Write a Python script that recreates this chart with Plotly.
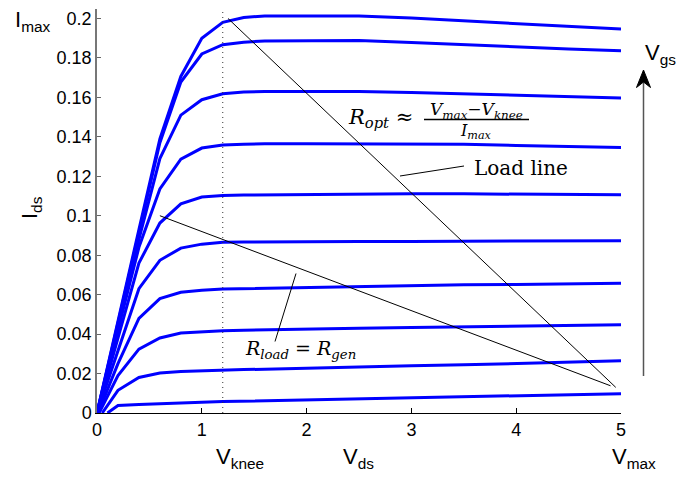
import plotly.graph_objects as go

# ---------------- data ----------------
VDS_GRID = [0.2, 0.4, 0.6, 0.8, 1.0, 1.2, 1.4, 1.6, 2.0, 2.5, 3.0, 3.5, 4.0, 4.5, 5.0]
V_START = [0.0, 0.0, 0.0, 0.0, 0.0, 0.0, 0.01, 0.02, 0.05, 0.1]

IDS_1 = [0.047, 0.093, 0.139, 0.1706, 0.190, 0.198, 0.2005, 0.2013, 0.2013, 0.2012, 0.2002, 0.1988, 0.1972, 0.196, 0.1946]
IDS_2 = [0.046, 0.092, 0.137, 0.1678, 0.182, 0.1867, 0.188, 0.1886, 0.1888, 0.1888, 0.1878, 0.1866, 0.1856, 0.1845, 0.1836]
IDS_3 = [0.044, 0.088, 0.129, 0.151, 0.1588, 0.1618, 0.1627, 0.163, 0.163, 0.163, 0.1625, 0.1618, 0.161, 0.1602, 0.1597]
IDS_4 = [0.042, 0.084, 0.1136, 0.1287, 0.1343, 0.1358, 0.1362, 0.1365, 0.1365, 0.1365, 0.1365, 0.1362, 0.1356, 0.135, 0.1346]
IDS_5 = [0.038, 0.076, 0.0963, 0.106, 0.1095, 0.1103, 0.1105, 0.1106, 0.1108, 0.1112, 0.1112, 0.1111, 0.111, 0.1108, 0.1106]
IDS_6 = [0.032, 0.063, 0.0774, 0.0836, 0.0856, 0.0865, 0.0867, 0.0868, 0.087, 0.087, 0.087, 0.0871, 0.0872, 0.0872, 0.0873]
IDS_7 = [0.025, 0.048, 0.058, 0.0612, 0.0622, 0.0628, 0.063, 0.0632, 0.0638, 0.0642, 0.0646, 0.065, 0.0652, 0.0655, 0.0658]
IDS_8 = [0.019, 0.0324, 0.038, 0.0405, 0.0412, 0.0417, 0.042, 0.0422, 0.0427, 0.043, 0.0433, 0.0436, 0.0439, 0.0443, 0.0448]
IDS_9 = [0.0115, 0.018, 0.0203, 0.021, 0.0214, 0.0218, 0.022, 0.0222, 0.0228, 0.0233, 0.024, 0.0244, 0.025, 0.0258, 0.0265]
IDS_10 = [0.0038, 0.0043, 0.0048, 0.0052, 0.0055, 0.0058, 0.006, 0.0062, 0.0066, 0.0071, 0.0079, 0.0083, 0.0088, 0.0093, 0.0098]
IDS_CURVES = [IDS_1, IDS_2, IDS_3, IDS_4, IDS_5, IDS_6, IDS_7, IDS_8, IDS_9, IDS_10]

LOAD_OPT_X = [1.25, 4.95]
LOAD_OPT_Y = [0.200, 0.013]
LOAD_GEN_X = [0.6, 4.9]
LOAD_GEN_Y = [0.100, 0.0138]
V_KNEE = 1.2

X_TICKS = [0, 1, 2, 3, 4, 5]
X_TICK_TEXT = ["0", "1", "2", "3", "4", "5"]
Y_TICKS = [0, 0.02, 0.04, 0.06, 0.08, 0.1, 0.12, 0.14, 0.16, 0.18, 0.2]
Y_TICK_TEXT = ["0", "0.02", "0.04", "0.06", "0.08", "0.1", "0.12", "0.14", "0.16", "0.18", "0.2"]
X_RANGE = [0, 5]
Y_RANGE = [0, 0.2048]

# ---------------- layout helpers ----------------
W, H = 679, 481
ML, MR, MT, MB = 97, 58, 9, 68
PW, PH = W - ML - MR, H - MT - MB


def px(x):
    return (x - ML) / PW


def py(y):
    return (H - MB - y) / PH


SANS = "Liberation Sans, Arial, sans-serif"
SERIF = "DejaVu Serif, serif"

fig = go.Figure()

for v0, ids in zip(V_START, IDS_CURVES):
    fig.add_trace(go.Scatter(
        x=[v0] + VDS_GRID, y=[0] + ids, mode="lines",
        line=dict(color="#0000ff", width=3), showlegend=False, hoverinfo="skip"))

fig.add_trace(go.Scatter(x=LOAD_OPT_X, y=LOAD_OPT_Y, mode="lines",
                         line=dict(color="black", width=1), showlegend=False))
fig.add_trace(go.Scatter(x=LOAD_GEN_X, y=LOAD_GEN_Y, mode="lines",
                         line=dict(color="black", width=1), showlegend=False))
fig.add_trace(go.Scatter(x=[V_KNEE, V_KNEE], y=Y_RANGE, mode="lines",
                         line=dict(color="#333333", width=1, dash="1px,4px"), showlegend=False))

shapes = []
# leader lines
shapes.append(dict(type="line", xref="paper", yref="paper",
                   x0=px(400), y0=py(176), x1=px(464), y1=py(166),
                   line=dict(color="black", width=1)))
shapes.append(dict(type="line", xref="paper", yref="paper",
                   x0=px(275), y0=py(341.5), x1=px(296), y1=py(273.5),
                   line=dict(color="black", width=1)))
# fraction bar
shapes.append(dict(type="line", xref="paper", yref="paper",
                   x0=px(424), y0=py(119.5), x1=px(529), y1=py(119.5),
                   line=dict(color="black", width=1.5)))
# V_gs arrow
shapes.append(dict(type="line", xref="paper", yref="paper",
                   x0=px(643.5), y0=py(376), x1=px(643.5), y1=py(82),
                   line=dict(color="#555555", width=1.5)))
shapes.append(dict(type="path", xref="paper", yref="paper",
                   path="M {} {} L {} {} L {} {} L {} {} Z".format(
                       px(643.5), py(70), px(636.5), py(87.5),
                       px(643.5), py(82), px(650.5), py(87.5)),
                   fillcolor="black", line=dict(color="black", width=1)))

ann = []


def add_text(text, x, y, size, family=SANS, xanchor="center", yanchor="middle", angle=0):
    ann.append(dict(text=text, xref="paper", yref="paper", x=px(x), y=py(y),
                    xanchor=xanchor, yanchor=yanchor, showarrow=False,
                    textangle=angle, font=dict(family=family, size=size, color="black")))


add_text("I<sub>max</sub>", 33, 21, 22)
add_text("I<sub>ds</sub>", 31, 208, 22, angle=-90)
add_text("V<sub>knee</sub>", 240, 458, 22)
add_text("V<sub>ds</sub>", 358, 458, 22)
add_text("V<sub>max</sub>", 634, 458, 22)
add_text("V<sub>gs</sub>", 660, 54, 22)
add_text("<i>R</i><sub><i>opt</i></sub> ≈", 346, 118, 21, family=SERIF, xanchor="left")
add_text("<i>V</i><sub><i>max</i></sub>−<i>V</i><sub><i>knee</i></sub>", 476, 110, 17, family=SERIF)
add_text("<i>I</i><sub><i>max</i></sub>", 476, 131, 16, family=SERIF)
add_text("Load line", 521, 168, 20, family=SERIF)
add_text("<i>R</i><sub><i>load</i></sub> = <i>R</i><sub><i>gen</i></sub>", 300, 349, 19, family=SERIF)

fig.update_layout(
    width=W, height=H,
    margin=dict(l=ML, r=MR, t=MT, b=MB, pad=0),
    paper_bgcolor="white", plot_bgcolor="white",
    shapes=shapes, annotations=ann, showlegend=False,
    xaxis=dict(range=X_RANGE, tickvals=X_TICKS, ticktext=X_TICK_TEXT,
               ticks="inside", ticklen=5, tickcolor="black", showgrid=False, zeroline=False,
               showline=True, linecolor="black", linewidth=1,
               tickfont=dict(family=SANS, size=18, color="black")),
    yaxis=dict(range=Y_RANGE, tickvals=Y_TICKS, ticktext=Y_TICK_TEXT,
               ticks="inside", ticklen=4, tickcolor="#666666", showgrid=False, zeroline=False,
               showline=True, linecolor="#777777", linewidth=1.5,
               tickfont=dict(family=SANS, size=18, color="black")),
)

fig.write_html("out.html")
